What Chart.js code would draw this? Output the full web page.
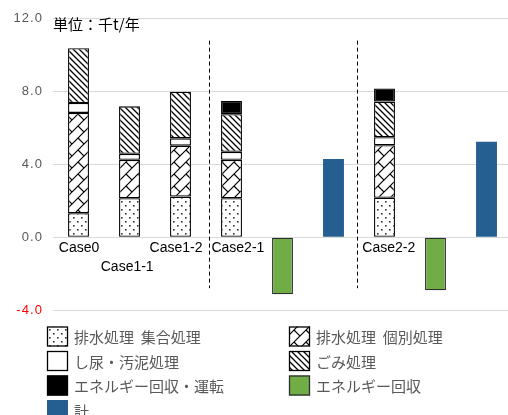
<!DOCTYPE html>
<html>
<head>
<meta charset="utf-8">
<script src="https://cdn.jsdelivr.net/npm/chart.js@4/dist/chart.umd.min.js"></script>
<style>
  html, body { margin: 0; padding: 0; background: #fff; overflow: hidden; }
  #wrap { width: 512px; height: 415px; }
</style>
</head>
<body>
<div id="wrap"><canvas id="chart" width="512" height="415"></canvas></div>
<script>
// 単位：千t/年
const categories = ["Case0", "Case1-1", "Case1-2", "Case2-1", "", "", "Case2-2", "", ""];
const sewerCollective = [1.32, 2.14, 2.23, 2.14, null, null, 2.17, null, null];
const sewerIndividual = [5.51, 2.11, 2.80, 2.11, null, null, 2.88, null, null];
const sludge = [0.54, 0.33, 0.40, 0.44, null, null, 0.44, null, null];
const waste = [3.01, 2.61, 2.56, 2.07, null, null, 1.96, null, null];
const recoveryOps = [null, null, null, 0.72, null, null, 0.72, null, null];
const recovery = [null, null, null, null, -3.14, null, null, -2.92, null];
const total = [null, null, null, null, null, 4.30, null, null, 5.25];
const yTicks = [-4, 0, 4, 8, 12];

// where the case names sit (px shift from bar centre, row below the zero line)
const labelShift = [0.5, -2.3, -4.5, 6.4, 0, 0, 4.3, 0, 0];
const labelRow = [0, 1, 0, 0, 0, 0, 0, 0, 0];
// dashed separators, in category units
const dividers = [2.555, 5.465];

function makePattern(size, draw) {
    const c = document.createElement("canvas");
    c.width = size;
    c.height = size;
    const g = c.getContext("2d");
    g.fillStyle = "#fff";
    g.fillRect(0, 0, size, size);
    draw(g, size);
    return g.createPattern(c, "repeat");
}

const dots = makePattern(8, (g) => {
    g.fillStyle = "#333";
    g.fillRect(1, 1, 1.6, 1.6);
    g.fillRect(5, 5, 1.6, 1.6);
});

const weave = makePattern(12, (g, s) => {
    g.strokeStyle = "#000";
    g.lineWidth = 1.2;
    g.beginPath();
    // rising lines
    g.moveTo(-1, s + 1); g.lineTo(s + 1, -1);
    g.moveTo(-1, 1); g.lineTo(1, -1);
    g.moveTo(s - 1, s + 1); g.lineTo(s + 1, s - 1);
    // short falling steps
    g.moveTo(s / 2, s / 2); g.lineTo(s, s);
    g.stroke();
});

const stripes = makePattern(6, (g, s) => {
    g.strokeStyle = "#000";
    g.lineWidth = 1.3;
    g.beginPath();
    g.moveTo(-1, -1); g.lineTo(s + 1, s + 1);
    g.moveTo(-1, s - 1); g.lineTo(1, s + 1);
    g.moveTo(s - 1, -1); g.lineTo(s + 1, 1);
    g.stroke();
});

const outlined = { borderColor: "#000", borderWidth: 1.3, borderSkipped: false };

const extras = {
    id: "extras",
    afterDatasetsDraw(chart) {
        const { ctx, chartArea } = chart;
        const x = chart.scales.x, y = chart.scales.y;
        ctx.save();

        // dashed separators
        ctx.strokeStyle = "#000";
        ctx.lineWidth = 1;
        ctx.setLineDash([4, 3]);
        dividers.forEach((d) => {
            const px = Math.round(x.getPixelForValue(d)) + 0.5;
            ctx.beginPath();
            ctx.moveTo(px, y.getPixelForValue(10.8));
            ctx.lineTo(px, y.getPixelForValue(-2.8));
            ctx.stroke();
        });
        ctx.setLineDash([]);

        // case names
        ctx.fillStyle = "#000";
        ctx.font = "14px 'Liberation Sans', sans-serif";
        ctx.textAlign = "center";
        ctx.textBaseline = "middle";
        const zero = y.getPixelForValue(0);
        categories.forEach((c, i) => {
            if (!c) return;
            const px = x.getPixelForValue(i) + labelShift[i];
            ctx.fillText(c, px, zero + (labelRow[i] ? 30 : 10.5));
        });

        // unit caption
        ctx.textAlign = "left";
        ctx.font = "15px 'Noto Sans CJK JP', sans-serif";
        ctx.fillText("単位：千t/年", chartArea.left, 24);

        // legend, two columns
        const cols = [47, 289];
        chart.data.datasets.forEach((ds, i) => {
            const cx = cols[i % 2];
            const cy = 336.5 + Math.floor(i / 2) * 24.5;
            ctx.fillStyle = ds.backgroundColor;
            ctx.fillRect(cx, cy - 10, 21, 20);
            if (ds.borderWidth) {
                ctx.strokeStyle = ds.borderColor;
                ctx.lineWidth = 1.3;
                ctx.strokeRect(cx + 0.5, cy - 9.5, 20, 19);
            }
            ctx.fillStyle = "#595959";
            ctx.font = "15px 'Noto Sans CJK JP', sans-serif";
            ctx.fillText(ds.label, cx + 27, cy + 1);
        });
        ctx.restore();
    },
};

new Chart(document.getElementById("chart"), {
    type: "bar",
    data: {
        labels: categories,
        datasets: [
            { label: "排水処理  集合処理", data: sewerCollective, backgroundColor: dots, ...outlined },
            { label: "排水処理  個別処理", data: sewerIndividual, backgroundColor: weave, ...outlined },
            { label: "し尿・汚泥処理", data: sludge, backgroundColor: "#fff", ...outlined },
            { label: "ごみ処理", data: waste, backgroundColor: stripes, ...outlined },
            { label: "エネルギー回収・運転", data: recoveryOps, backgroundColor: "#000", ...outlined },
            { label: "エネルギー回収", data: recovery, backgroundColor: "#70ad47", borderColor: "#2f2f2f", borderWidth: 1.3, borderSkipped: false },
            { label: "計", data: total, backgroundColor: "#255e91", borderWidth: 0 },
        ],
    },
    options: {
        responsive: false,
        animation: false,
        layout: { padding: { top: 14, bottom: 105, right: 0, left: 0 } },
        datasets: { bar: { categoryPercentage: 1, barPercentage: 0.41 } },
        plugins: { legend: { display: false }, tooltip: { enabled: false } },
        scales: {
            x: { stacked: true, display: false },
            y: {
                stacked: true,
                min: -4,
                max: 12,
                afterBuildTicks: (s) => { s.ticks = yTicks.map((v) => ({ value: v })); },
                afterFit: (s) => { s.width = 53; },
                border: { display: false },
                grid: { color: "#d9d9d9", drawTicks: false },
                ticks: {
                    padding: 11,
                    font: { size: 13, family: "'Liberation Sans', sans-serif" },
                    color: (c) => (c.tick.value === -4 ? "#ff0000" : "#595959"),
                    callback: (v) => v.toFixed(1).split("").join("\u200a"),
                },
            },
        },
    },
    plugins: [extras],
});
</script>
</body>
</html>
